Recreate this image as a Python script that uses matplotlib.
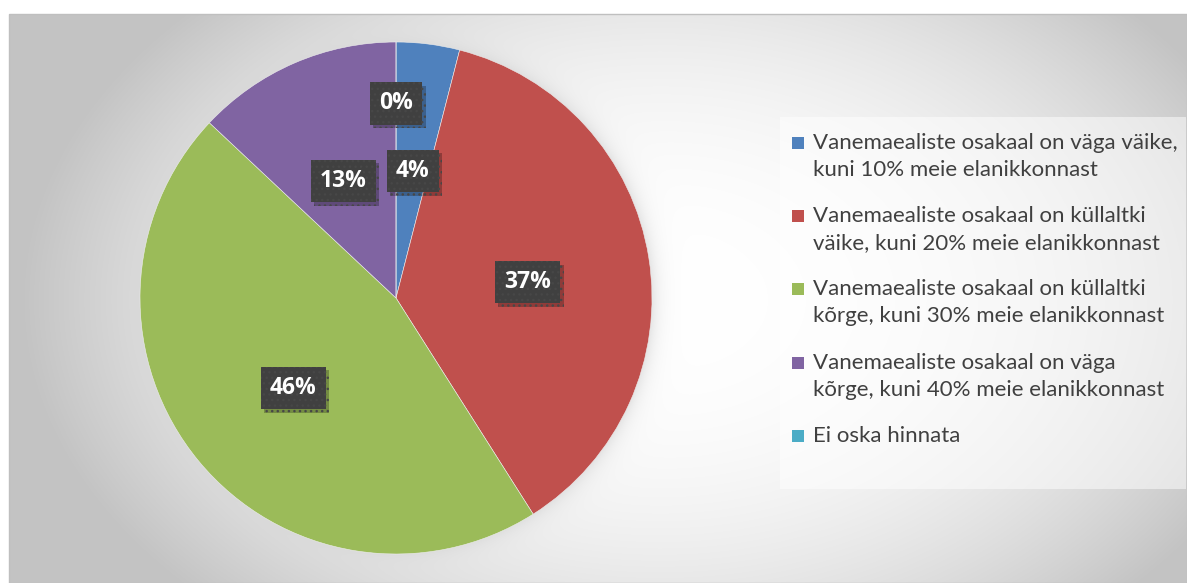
import numpy as np
import matplotlib.pyplot as plt
from matplotlib.patches import Rectangle
import matplotlib.patheffects as pe

plt.rcParams['font.family'] = ['Lato', 'DejaVu Sans']

categories = [
    "Vanemaealiste osakaal on väga väike,\nkuni 10% meie elanikkonnast",
    "Vanemaealiste osakaal on küllaltki\nväike, kuni 20% meie elanikkonnast",
    "Vanemaealiste osakaal on küllaltki\nkõrge, kuni 30% meie elanikkonnast",
    "Vanemaealiste osakaal on väga\nkõrge, kuni 40% meie elanikkonnast",
    "Ei oska hinnata",
]
shares = [4, 37, 46, 13, 0]
colors = ["#4F81BD", "#C0504D", "#9BBB59", "#8064A2", "#4BACC6"]

W, H = 1187, 583
fig = plt.figure(figsize=(W / 100, H / 100), dpi=100)

x0, y0 = 9, 14            # chart area top-left (px)
cx, cy, r = 396, 298, 256  # pie centre and radius (px, from top)

# background: radial grey gradient + soft halo around the pie
bg = fig.add_axes([x0 / W, 0, 1 - x0 / W, 1 - y0 / H])
bg.set_axis_off()
xx, yy = np.meshgrid(np.arange(x0, W) + 0.5, np.arange(y0, H) + 0.5)
t = np.sqrt(((xx - 660) / 640) ** 2 + ((yy - 300) / 430) ** 2)
val = 255 - 60 * np.clip(t, 0, 1) ** 2.3
d = np.hypot(xx - cx, yy - cy) - r
w = 0.65 * np.exp(-np.clip(d, 0, None) / 9)
val = val * (1 - w) + 0xD8 * w
bg.imshow(np.dstack([val] * 3) / 255, extent=[0, 1, 0, 1], aspect='auto', origin='upper')
bg.set_xlim(0, 1)
bg.set_ylim(0, 1)
fig.patches.append(Rectangle((x0 / W, 0), 1 - x0 / W, 1 - y0 / H, transform=fig.transFigure,
                             fill=False, edgecolor='#BFBFBF', lw=1))

# pie
ax = fig.add_axes([(cx - r) / W, (H - cy - r) / H, 2 * r / W, 2 * r / H])
wedges, texts, autotexts = ax.pie(
    shares, colors=colors, startangle=90, counterclock=False,
    autopct='%1.0f%%', pctdistance=0.52,
    wedgeprops=dict(edgecolor='#EEEEEE', linewidth=0.4),
    textprops=dict(color='white', fontsize=16.5, fontweight='bold',
                   family=['Open Sans', 'DejaVu Sans']))
ax.set_xlim(-1, 1)
ax.set_ylim(-1, 1)

for a, v in zip(autotexts, shares):
    px, py = a.get_position()
    if v == 0:
        px, py = px * 0.78 / 0.52, py * 0.78 / 0.52
    a.set_position((px, py - 0.02))
    a.set_bbox(dict(boxstyle='square,pad=0.4', facecolor='#404040',
                    edgecolor='#474747', lw=0, hatch='...'))
    a.get_bbox_patch().set_path_effects([
        pe.SimplePatchShadow(offset=(2.5, -2.5), shadow_rgbFace='black', alpha=0.25),
        pe.Normal()])

# legend (drawn by hand so markers sit on the first text line)
fig.patches.append(Rectangle((780 / W, 1 - 489 / H), 406 / W, 372 / H, transform=fig.transFigure,
                             facecolor='white', alpha=0.5, edgecolor='none'))
for i, (lab, col) in enumerate(zip(categories, colors)):
    ytop = 143 + 73.2 * i
    fig.patches.append(Rectangle((792 / W, 1 - (ytop + 6) / H), 12 / W, 12 / H,
                                 transform=fig.transFigure, facecolor=col, edgecolor='none'))
    for k, line in enumerate(lab.split('\n')):
        fig.text(813 / W, 1 - (ytop + 27 * k) / H, line, fontsize=16,
                 color='#404040', va='center', ha='left')

fig.savefig('out.png', dpi=100)
